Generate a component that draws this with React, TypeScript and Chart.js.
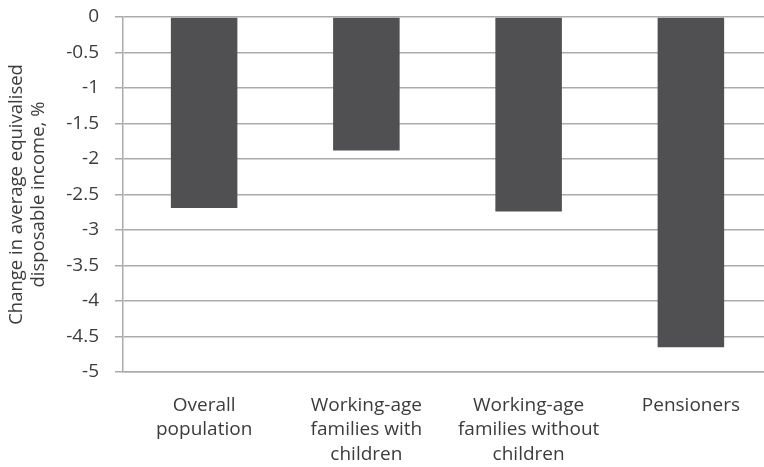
import { useEffect, useRef } from "react";
import { Chart, registerables } from "chart.js";

Chart.register(...registerables);

const categories: string[][] = [
  ["Overall", "population"],
  ["Working-age", "families with", "children"],
  ["Working-age", "families without", "children"],
  ["Pensioners"],
];
const incomeChange: number[] = [-2.69, -1.88, -2.74, -4.65];
const yTitle: string[] = ["Change in average equivalised", "disposable income, %"];

const FONT = "'Open Sans', sans-serif";
const TEXT = "#3c3c3c";
const GRID = "#ababab";

export default function App() {
  const ref = useRef<HTMLCanvasElement>(null);

  useEffect(() => {
    const chart = new Chart(ref.current!, {
      type: "bar",
      data: {
        labels: categories,
        datasets: [
          {
            data: incomeChange,
            backgroundColor: "#505052",
            barPercentage: 0.41,
            categoryPercentage: 1,
          },
        ],
      },
      options: {
        responsive: false,
        animation: false,
        layout: { padding: { top: -3, right: 8, left: 0, bottom: 0 } },
        plugins: { legend: { display: false }, tooltip: { enabled: false } },
        scales: {
          x: {
            grid: { display: false, drawTicks: false },
            border: { color: GRID, width: 1.5 },
            ticks: {
              color: TEXT,
              font: { family: FONT, size: 19, lineHeight: 1.29 },
              padding: 21,
              maxRotation: 0,
              autoSkip: false,
            },
            afterFit: (scale) => {
              scale.height = 95;
            },
          },
          y: {
            min: -5,
            max: 0,
            ticks: {
              stepSize: 0.5,
              color: TEXT,
              font: { family: FONT, size: 19, lineHeight: 0.1 },
              padding: 16,
              callback: (v) => String(Number(v)),
            },
            grid: { color: GRID, lineWidth: 1.5, tickLength: 8 },
            border: { color: GRID, width: 1.5 },
            title: {
              display: true,
              text: yTitle,
              color: TEXT,
              font: { family: FONT, size: 18.5, lineHeight: 1.19 },
              padding: { top: 6, bottom: 0 },
            },
            afterFit: (scale) => {
              scale.width = 123;
            },
          },
        },
      },
    });
    return () => chart.destroy();
  }, []);

  return (
    <div
      style={{
        position: "fixed",
        left: 0,
        top: 0,
        width: 764,
        height: 467,
        overflow: "hidden",
        background: "#fff",
      }}
    >
      <canvas ref={ref} width={780} height={467} />
    </div>
  );
}
